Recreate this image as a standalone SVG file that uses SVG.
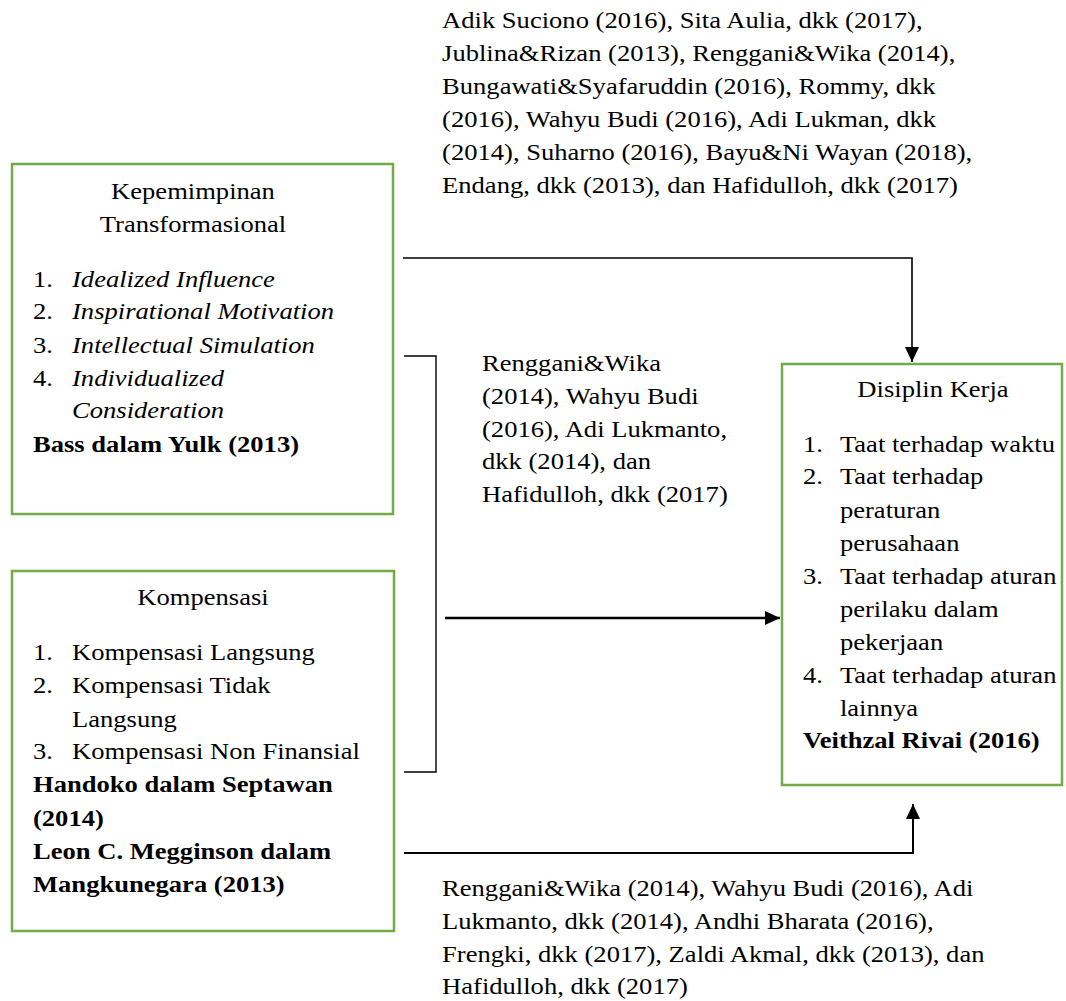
<svg xmlns="http://www.w3.org/2000/svg" width="1066" height="1001" viewBox="0 0 1066 1001">
<style>
.box{fill:#fff;stroke:#70AD47;stroke-width:2.5}
.t{font-family:"Liberation Serif","Times New Roman",serif;font-size:23px;fill:#000}
.i{font-style:italic}
.b{font-weight:bold}
.m{text-anchor:middle}
.ln{fill:none;stroke:#000}
</style>
<defs>
<marker id="ah" markerUnits="userSpaceOnUse" markerWidth="16" markerHeight="16" refX="15" refY="7" orient="auto">
<path d="M0,0 L15,7 L0,14 Z" fill="#000"/>
</marker>
</defs>
<rect width="1066" height="1001" fill="#fff"/>
<g id="connectors">
<path class="ln" d="M403 258 H912 V362" stroke-width="1.6" marker-end="url(#ah)"/>
<path class="ln" d="M404 356 H436 V772 H404" stroke-width="1.4"/>
<path class="ln" d="M445 618 H780" stroke-width="2.6" marker-end="url(#ah)"/>
<path class="ln" d="M404 853 H913 V804" stroke-width="2" marker-end="url(#ah)"/>
</g>
<g id="label-top" class="t" transform="scale(1.156,1)">
<text x="382.4" y="28">Adik Suciono (2016), Sita Aulia, dkk (2017),</text>
<text x="382.4" y="61">Jublina&amp;Rizan (2013), Renggani&amp;Wika (2014),</text>
<text x="382.4" y="94">Bungawati&amp;Syafaruddin (2016), Rommy, dkk</text>
<text x="382.4" y="127">(2016), Wahyu Budi (2016), Adi Lukman, dkk</text>
<text x="382.4" y="160">(2014), Suharno (2016), Bayu&amp;Ni Wayan (2018),</text>
<text x="382.4" y="193">Endang, dkk (2013), dan Hafidulloh, dkk (2017)</text>
</g>
<g id="label-middle" class="t" transform="scale(1.156,1)">
<text x="416.96" y="371">Renggani&amp;Wika</text>
<text x="416.96" y="404">(2014), Wahyu Budi</text>
<text x="416.96" y="437">(2016), Adi Lukmanto,</text>
<text x="416.96" y="469">dkk (2014), dan</text>
<text x="416.96" y="502">Hafidulloh, dkk (2017)</text>
</g>
<g id="label-bottom" class="t" transform="scale(1.156,1)">
<text x="382.4" y="896">Renggani&amp;Wika (2014), Wahyu Budi (2016), Adi</text>
<text x="382.4" y="929">Lukmanto, dkk (2014), Andhi Bharata (2016),</text>
<text x="382.4" y="962">Frengki, dkk (2017), Zaldi Akmal, dkk (2013), dan</text>
<text x="382.4" y="994">Hafidulloh, dkk (2017)</text>
</g>
<g id="kepemimpinan">
<rect class="box" x="12" y="164" width="381" height="350"/>
<g class="t" transform="scale(1.156,1)">
<text class="m" x="166.96" y="199">Kepemimpinan</text>
<text class="m" x="166.96" y="232">Transformasional</text>
<text x="28.55" y="287">1.</text><text class="i" x="62.28" y="287">Idealized Influence</text>
<text x="28.55" y="319">2.</text><text class="i" x="62.28" y="319">Inspirational Motivation</text>
<text x="28.55" y="353">3.</text><text class="i" x="62.28" y="353">Intellectual Simulation</text>
<text x="28.55" y="386">4.</text><text class="i" x="62.28" y="386">Individualized</text>
<text class="i" x="62.28" y="418">Consideration</text>
<text class="b" x="28.55" y="452">Bass dalam Yulk (2013)</text>
</g>
</g>
<g id="kompensasi">
<rect class="box" x="12" y="571" width="382" height="360"/>
<g class="t" transform="scale(1.156,1)">
<text class="m" x="175.6" y="605">Kompensasi</text>
<text x="28.55" y="660">1.</text><text x="62.28" y="660">Kompensasi Langsung</text>
<text x="28.55" y="693">2.</text><text x="62.28" y="693">Kompensasi Tidak</text>
<text x="62.28" y="727">Langsung</text>
<text x="28.55" y="759">3.</text><text x="62.28" y="759">Kompensasi Non Finansial</text>
<text class="b" x="28.55" y="792">Handoko dalam Septawan</text>
<text class="b" x="28.55" y="826">(2014)</text>
<text class="b" x="28.55" y="859">Leon C. Megginson dalam</text>
<text class="b" x="28.55" y="892">Mangkunegara (2013)</text>
</g>
</g>
<g id="disiplin-kerja">
<rect class="box" x="782" y="364" width="280" height="421"/>
<g class="t" transform="scale(1.156,1)">
<text class="m" x="807.1" y="397">Disiplin Kerja</text>
<text x="694.6" y="452">1.</text><text x="726.6" y="452">Taat terhadap waktu</text>
<text x="694.6" y="484">2.</text><text x="726.6" y="484">Taat terhadap</text>
<text x="726.6" y="518">peraturan</text>
<text x="726.6" y="551">perusahaan</text>
<text x="694.6" y="584">3.</text><text x="726.6" y="584">Taat terhadap aturan</text>
<text x="726.6" y="617">perilaku dalam</text>
<text x="726.6" y="650">pekerjaan</text>
<text x="694.6" y="683">4.</text><text x="726.6" y="683">Taat terhadap aturan</text>
<text x="726.6" y="716">lainnya</text>
<text class="b" x="694.6" y="748">Veithzal Rivai (2016)</text>
</g>
</g>
</svg>
